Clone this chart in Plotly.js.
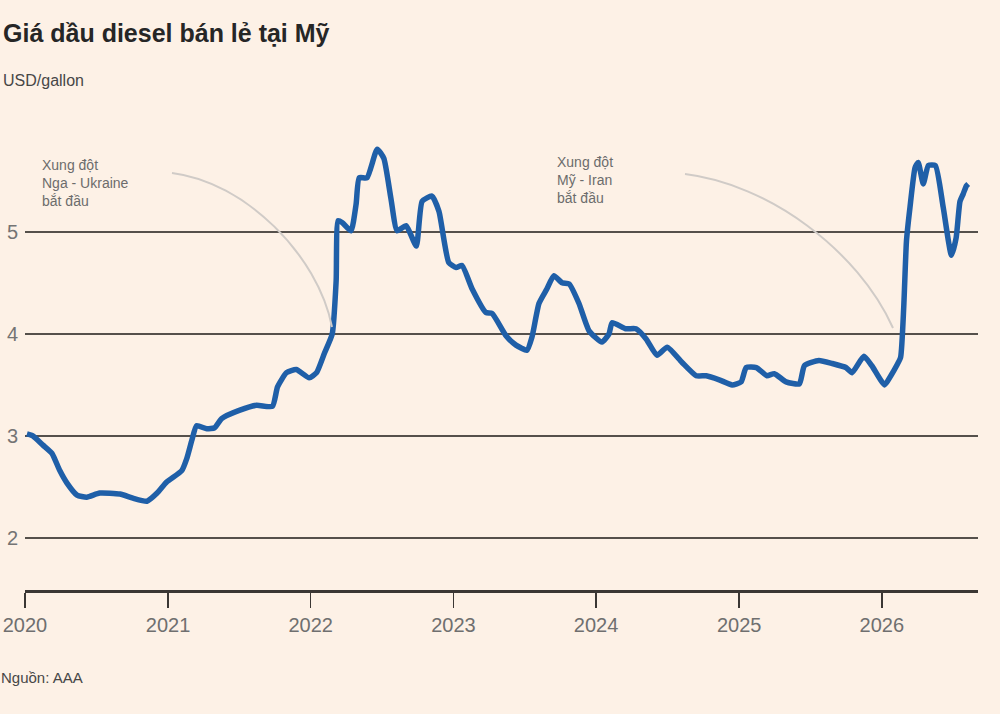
<!DOCTYPE html>
<html>
<head>
<meta charset="utf-8">
<script src="https://cdn.plot.ly/plotly-3.0.1.min.js"></script>
<style>
  html, body { margin: 0; padding: 0; background: #fdf1e6; }
  #chart { width: 1000px; height: 714px; }
</style>
</head>
<body>
<div id="chart"></div>
<script>
// weekly retail diesel price, USD/gallon
const dates = [
  '2020-01-06', '2020-01-21', '2020-02-16', '2020-03-10', '2020-03-30', '2020-04-17',
  '2020-05-13', '2020-06-07', '2020-07-10', '2020-08-31', '2020-10-03', '2020-11-08',
  '2020-12-04', '2020-12-29', '2021-02-05', '2021-02-18', '2021-03-03', '2021-03-15',
  '2021-04-10', '2021-04-30', '2021-05-18', '2021-07-02', '2021-08-15', '2021-09-25',
  '2021-10-08', '2021-10-31', '2021-11-25', '2021-12-28', '2022-01-16', '2022-02-05',
  '2022-02-25', '2022-03-07', '2022-03-12', '2022-03-23', '2022-04-14', '2022-04-27',
  '2022-05-05', '2022-05-25', '2022-06-20', '2022-07-07', '2022-07-25', '2022-08-10',
  '2022-09-02', '2022-09-28', '2022-10-13', '2022-11-07', '2022-11-25', '2022-12-20',
  '2023-01-08', '2023-01-23', '2023-02-18', '2023-03-25', '2023-04-10', '2023-05-16',
  '2023-06-10', '2023-07-08', '2023-07-21', '2023-08-08', '2023-08-28', '2023-09-15',
  '2023-10-06', '2023-10-24', '2023-11-18', '2023-12-14', '2024-01-16', '2024-02-03',
  '2024-02-11', '2024-03-17', '2024-04-12', '2024-05-08', '2024-06-05', '2024-07-01',
  '2024-08-08', '2024-09-13', '2024-10-09', '2024-11-11', '2024-12-14', '2025-01-06',
  '2025-01-19', '2025-02-14', '2025-03-13', '2025-04-01', '2025-05-01', '2025-06-04',
  '2025-06-17', '2025-07-24', '2025-08-27', '2025-10-01', '2025-10-17', '2025-11-16',
  '2025-12-06', '2026-01-08', '2026-01-24', '2026-02-08', '2026-02-18', '2026-02-26',
  '2026-03-05', '2026-03-14', '2026-03-27', '2026-04-04', '2026-04-17', '2026-04-30',
  '2026-05-18', '2026-06-07', '2026-06-28', '2026-07-10', '2026-07-20', '2026-07-28',
  '2026-08-05', '2026-08-10'
];
const prices = [
  3.02, 3.00, 2.91, 2.83, 2.66, 2.54,
  2.42, 2.40, 2.44, 2.43, 2.39, 2.36,
  2.44, 2.55, 2.66, 2.78, 2.96, 3.10,
  3.07, 3.08, 3.17, 3.25, 3.30, 3.29,
  3.48, 3.62, 3.65, 3.57, 3.62, 3.81,
  4.00, 4.52, 5.11, 5.09, 5.01, 5.27,
  5.53, 5.53, 5.81, 5.72, 5.33, 5.01,
  5.06, 4.86, 5.30, 5.35, 5.20, 4.70,
  4.65, 4.67, 4.44, 4.21, 4.20, 3.98,
  3.89, 3.84, 3.97, 4.30, 4.44, 4.57,
  4.50, 4.49, 4.30, 4.03, 3.92, 4.00,
  4.11, 4.05, 4.05, 3.95, 3.79, 3.87,
  3.72, 3.59, 3.59, 3.55, 3.50, 3.53,
  3.67, 3.67, 3.59, 3.61, 3.53, 3.51,
  3.69, 3.74, 3.71, 3.67, 3.62, 3.78,
  3.69, 3.50, 3.59, 3.69, 3.77, 4.26,
  4.91, 5.24, 5.63, 5.68, 5.47, 5.65,
  5.65, 5.24, 4.77, 4.94, 5.30, 5.37,
  5.45, 5.47
];

const yearTicks = ['2020-01-01', '2021-01-01', '2022-01-01', '2023-01-01', '2024-01-01', '2025-01-01', '2026-01-01'];
const yearLabels = ['2020', '2021', '2022', '2023', '2024', '2025', '2026'];
const priceTicks = [2, 3, 4, 5];

const eventLabels = ['Xung đột<br>Nga - Ukraine<br>bắt đầu', 'Xung đột<br>Mỹ - Iran<br>bắt đầu'];

// plot box in page pixels, used to place the decorations
const PL = 25, PR = 978, PT = 140, PB = 590;
const px = x => (x - PL) / (PR - PL);
const py = y => (PB - y) / (PB - PT);
function arc(x0, y0, c1x, c1y, c2x, c2y, x1, y1) {
  return 'M ' + px(x0) + ',' + py(y0) +
    ' C ' + px(c1x) + ',' + py(c1y) + ' ' + px(c2x) + ',' + py(c2y) + ' ' + px(x1) + ',' + py(y1);
}

const font = 'Liberation Sans, Arial, sans-serif';

const traces = [{
  x: dates, y: prices,
  type: 'scatter', mode: 'lines',
  line: { color: '#1f5fa8', width: 5.5, shape: 'spline', smoothing: 0.5 },
  hoverinfo: 'x+y', showlegend: false
}];

const layout = {
  width: 1000, height: 714,
  margin: { l: PL, r: 1000 - PR, t: PT, b: 714 - PB, pad: 0 },
  paper_bgcolor: '#fdf1e6', plot_bgcolor: '#fdf1e6',
  font: { family: font, color: '#555' },
  title: {
    text: '<b>Giá dầu diesel bán lẻ tại Mỹ</b>',
    xref: 'container', yref: 'container',
    x: 0.003, xanchor: 'left', y: 1 - 33 / 714, yanchor: 'middle',
    font: { family: font, size: 25, color: '#262626' }
  },
  xaxis: {
    type: 'date',
    range: ['2020-01-01', '2026-09-04'],
    tickvals: yearTicks, ticktext: yearLabels,
    showgrid: false, zeroline: false,
    showline: true, linecolor: '#3b3734', linewidth: 2.5,
    ticks: 'outside', ticklen: 15, tickwidth: 1.5, tickcolor: '#3b3734',
    tickfont: { family: font, size: 20, color: '#6f6f6f' },
    fixedrange: true
  },
  yaxis: {
    range: [1.49, 5.9],
    tickvals: priceTicks,
    showgrid: true, gridcolor: '#55504b', gridwidth: 1.6,
    zeroline: false, showline: false, ticks: '',
    tickfont: { family: font, size: 20, color: '#747474' },
    ticklabelstandoff: 6,
    fixedrange: true
  },
  shapes: [
    {
      type: 'path', xref: 'paper', yref: 'paper',
      path: arc(172, 173, 245, 182, 318, 255, 332, 327),
      line: { color: '#d0cbc7', width: 2 }
    },
    {
      type: 'path', xref: 'paper', yref: 'paper',
      path: arc(685, 174, 768, 184, 858, 250, 893, 328),
      line: { color: '#d0cbc7', width: 2 }
    }
  ],
  annotations: [
    {
      text: 'USD/gallon', xref: 'paper', yref: 'paper',
      x: px(1), y: py(80), xanchor: 'left', yanchor: 'middle', showarrow: false,
      font: { family: font, size: 16, color: '#474747' }
    },
    {
      text: 'Nguồn: AAA', xref: 'paper', yref: 'paper',
      x: px(-1), y: py(677), xanchor: 'left', yanchor: 'middle', showarrow: false,
      font: { family: font, size: 15, color: '#474747' }
    },
    {
      text: eventLabels[0], xref: 'paper', yref: 'paper',
      x: px(40), y: py(155), xanchor: 'left', yanchor: 'top', align: 'left', showarrow: false,
      font: { family: font, size: 14, color: '#6c6c6c' }
    },
    {
      text: eventLabels[1], xref: 'paper', yref: 'paper',
      x: px(555), y: py(152), xanchor: 'left', yanchor: 'top', align: 'left', showarrow: false,
      font: { family: font, size: 14, color: '#6c6c6c' }
    }
  ],
  showlegend: false
};

Plotly.newPlot('chart', traces, layout, { displayModeBar: false, responsive: false, staticPlot: true });
</script>
</body>
</html>
